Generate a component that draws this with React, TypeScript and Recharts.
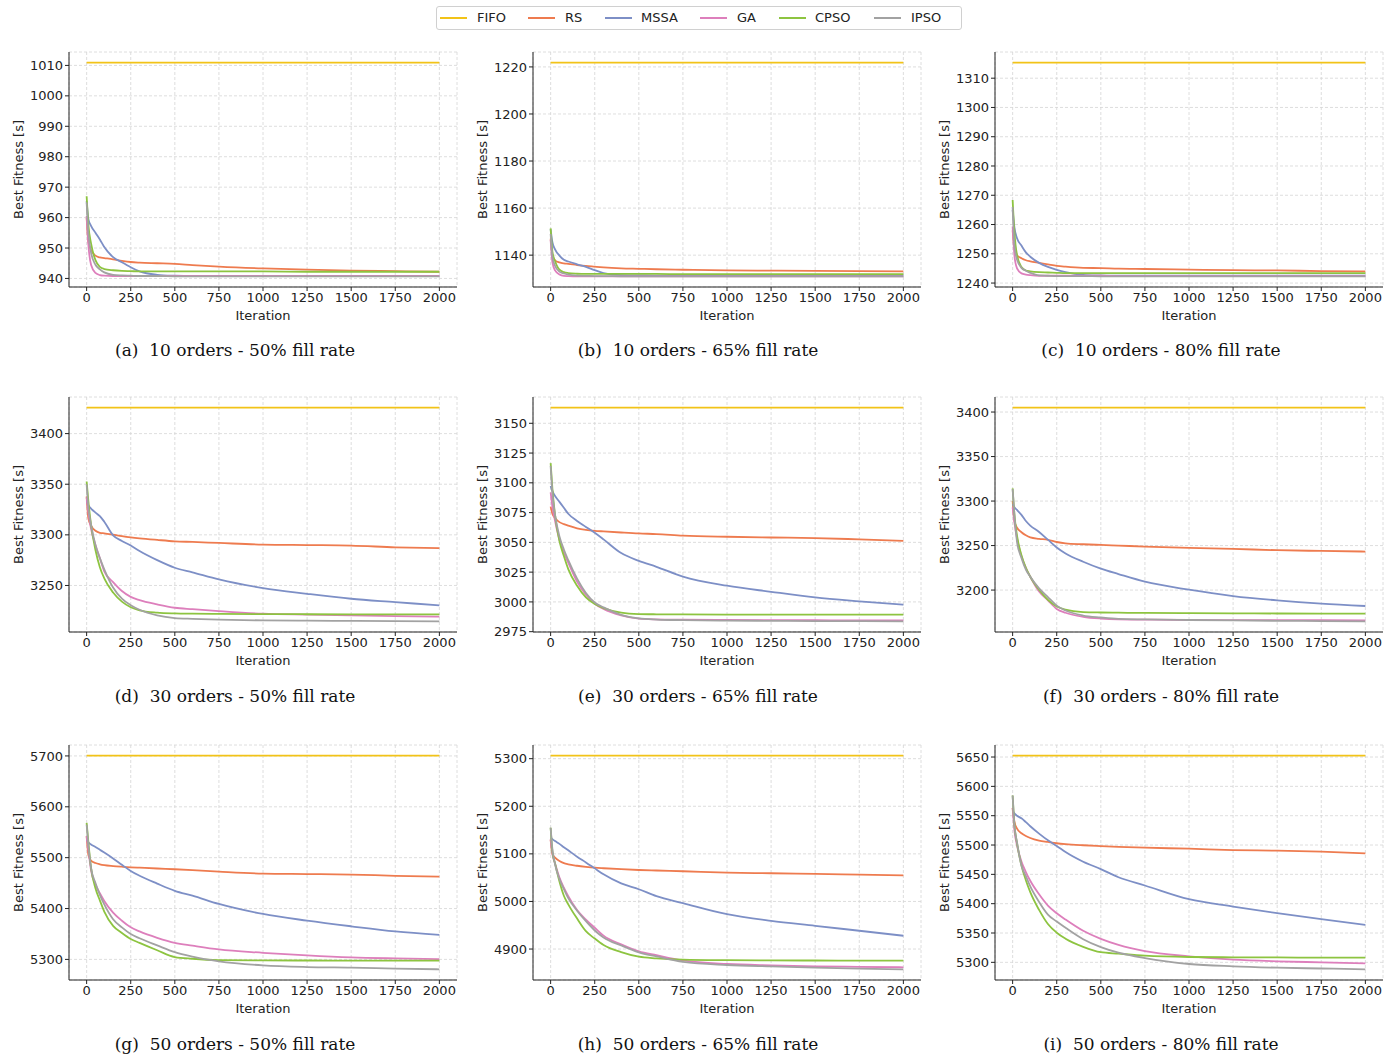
import { LineChart, Line, XAxis, YAxis, CartesianGrid } from "recharts";

// iterations at which each curve was sampled from the figure
const ITERS = [0, 10, 25, 50, 75, 100, 150, 200, 250, 300, 400, 500, 600, 750, 1000, 1250, 1500, 1750, 2000];
const X_TICKS = [0, 250, 500, 750, 1000, 1250, 1500, 1750, 2000];

const SERIES = ["FIFO", "RS", "MSSA", "GA", "CPSO", "IPSO"];
const COLORS: Record<string, string> = {
  FIFO: "#f2c318",
  RS: "#ee7b4f",
  MSSA: "#7d8fc6",
  GA: "#dd7fbc",
  CPSO: "#8dc440",
  IPSO: "#a2a2a2",
};

// (a) 10 orders - 50%
const A_FIFO = 1010.9;
const A_RS = [960.0, 952.0, 949.3, 947.5, 946.9, 946.7, 946.3, 945.8, 945.4, 945.2, 945.0, 944.8, 944.4, 943.9, 943.3, 942.9, 942.6, 942.4, 942.2];
const A_MSSA = [965.5, 959.5, 957.3, 955.0, 952.8, 950.3, 947.0, 945.3, 943.7, 942.3, 941.2, 940.9, 940.8, 940.8, 940.8, 940.8, 940.8, 940.8, 940.8];
const A_GA = [960.5, 951.0, 944.5, 941.8, 941.1, 940.9, 940.8, 940.8, 940.8, 940.8, 940.8, 940.8, 940.8, 940.8, 940.8, 940.8, 940.8, 940.8, 940.8];
const A_CPSO = [967.0, 957.5, 951.5, 946.0, 943.8, 943.1, 942.7, 942.5, 942.4, 942.3, 942.3, 942.3, 942.3, 942.3, 942.3, 942.2, 942.2, 942.2, 942.2];
const A_IPSO = [965.0, 955.0, 948.5, 944.5, 943.0, 942.0, 941.2, 941.0, 940.9, 940.8, 940.8, 940.7, 940.7, 940.7, 940.7, 940.7, 940.7, 940.7, 940.7];
const A_TICKS = [940, 950, 960, 970, 980, 990, 1000, 1010];

// (b) 10 orders - 65%
const B_FIFO = 1221.8;
const B_RS = [1147.0, 1140.0, 1137.8, 1136.9, 1136.5, 1136.3, 1135.8, 1135.4, 1135.1, 1134.8, 1134.4, 1134.2, 1134.0, 1133.8, 1133.5, 1133.4, 1133.3, 1133.2, 1133.1];
const B_MSSA = [1151.0, 1145.5, 1142.5, 1139.8, 1138.0, 1137.3, 1136.1, 1135.0, 1133.6, 1132.4, 1131.5, 1131.4, 1131.3, 1131.3, 1131.3, 1131.3, 1131.3, 1131.3, 1131.3];
const B_GA = [1146.5, 1137.0, 1133.5, 1131.8, 1131.2, 1131.1, 1131.0, 1131.0, 1131.0, 1131.0, 1131.0, 1131.0, 1131.0, 1131.0, 1131.0, 1131.0, 1131.0, 1131.0, 1131.0];
const B_CPSO = [1151.4, 1141.5, 1137.5, 1133.8, 1132.8, 1132.4, 1132.1, 1132.0, 1132.0, 1132.0, 1132.0, 1132.0, 1132.0, 1131.9, 1131.9, 1131.9, 1131.9, 1131.9, 1131.9];
const B_IPSO = [1149.0, 1139.5, 1135.5, 1133.0, 1132.2, 1131.7, 1131.3, 1131.2, 1131.1, 1131.1, 1131.0, 1131.0, 1131.0, 1131.0, 1131.0, 1131.0, 1131.0, 1131.0, 1131.0];
const B_TICKS = [1140, 1160, 1180, 1200, 1220];

// (c) 10 orders - 80%
const C_FIFO = 1315.3;
const C_RS = [1258.0, 1252.0, 1249.5, 1248.5, 1247.8, 1247.4, 1246.9, 1246.4, 1245.9, 1245.6, 1245.2, 1245.1, 1244.9, 1244.8, 1244.6, 1244.4, 1244.3, 1244.1, 1244.0];
const C_MSSA = [1265.0, 1259.0, 1255.3, 1252.8, 1250.5, 1249.0, 1246.9, 1245.5, 1244.5, 1243.7, 1242.8, 1242.6, 1242.5, 1242.5, 1242.5, 1242.5, 1242.5, 1242.5, 1242.5];
const C_GA = [1259.3, 1249.5, 1245.0, 1243.3, 1242.9, 1242.7, 1242.5, 1242.5, 1242.5, 1242.5, 1242.5, 1242.5, 1242.4, 1242.4, 1242.4, 1242.4, 1242.4, 1242.4, 1242.4];
const C_CPSO = [1268.4, 1257.5, 1249.5, 1245.5, 1244.3, 1244.0, 1243.7, 1243.6, 1243.5, 1243.4, 1243.4, 1243.4, 1243.4, 1243.4, 1243.4, 1243.4, 1243.4, 1243.4, 1243.4];
const C_IPSO = [1266.0, 1253.0, 1248.0, 1245.2, 1244.2, 1243.5, 1242.6, 1242.5, 1242.4, 1242.4, 1242.4, 1242.3, 1242.3, 1242.3, 1242.3, 1242.3, 1242.3, 1242.3, 1242.3];
const C_TICKS = [1240, 1250, 1260, 1270, 1280, 1290, 1300, 1310];

// (d) 30 orders - 50%
const D_FIFO = 3425.6;
const D_RS = [3338, 3316, 3309, 3304, 3302, 3301.5, 3300.2, 3298.8, 3297.6, 3296.6, 3295, 3293.6, 3293, 3292, 3290.4, 3289.9, 3289.4, 3287.7, 3286.8];
const D_MSSA = [3334, 3329, 3326, 3322, 3318.5, 3313, 3299.5, 3294, 3289.5, 3284, 3275, 3267.5, 3263, 3256, 3247.4, 3241.8, 3236.9, 3233.6, 3230.3];
const D_GA = [3337, 3322, 3306, 3290, 3277, 3264, 3253.3, 3244.5, 3238.7, 3235.5, 3231.3, 3228, 3226.6, 3224.7, 3222.1, 3221.2, 3220.5, 3219.8, 3219.2];
const D_CPSO = [3352.7, 3333, 3310, 3285, 3268, 3257, 3243, 3234, 3228.5, 3225.5, 3223.2, 3222.4, 3222.1, 3221.9, 3221.7, 3221.6, 3221.5, 3221.4, 3221.4];
const D_IPSO = [3350, 3327, 3310, 3290, 3277, 3266, 3248, 3237, 3230.5, 3226, 3220.5, 3217.8, 3217, 3216.2, 3215.5, 3215.2, 3215, 3214.8, 3214.6];
const D_TICKS = [3250, 3300, 3350, 3400];

// (e) 30 orders - 65%
const E_FIFO = 3163.1;
const E_RS = [3080, 3074, 3070.5, 3067, 3065.3, 3064, 3061.8, 3060.5, 3059.7, 3059.2, 3058.3, 3057.5, 3057, 3055.7, 3054.7, 3054.1, 3053.6, 3052.5, 3051.3];
const E_MSSA = [3097.4, 3093, 3089, 3084, 3079, 3074, 3068, 3063, 3058, 3052.5, 3041, 3034.5, 3029.5, 3021.3, 3013.6, 3008.5, 3003.8, 3000.5, 2997.6];
const E_GA = [3091.9, 3080, 3068, 3052, 3041.5, 3033, 3017, 3006, 2998.5, 2994, 2988.6, 2985.9, 2985.3, 2985, 2984.8, 2984.7, 2984.6, 2984.5, 2984.5];
const E_CPSO = [3116.5, 3095, 3073, 3051, 3038.5, 3027.5, 3013.5, 3003.8, 2998.2, 2994.8, 2991, 2989.8, 2989.6, 2989.5, 2989.4, 2989.4, 2989.3, 2989.3, 2989.3];
const E_IPSO = [3114.2, 3092, 3073, 3055, 3044, 3035, 3019.5, 3007.5, 2999.5, 2995.4, 2989.2, 2986.2, 2985.2, 2984.7, 2984.3, 2984.1, 2983.9, 2983.8, 2983.7];
const E_TICKS = [2975, 3000, 3025, 3050, 3075, 3100, 3125, 3150];

// (f) 30 orders - 80%
const F_FIFO = 3404.9;
const F_RS = [3300, 3278, 3270, 3265, 3261.5, 3259.2, 3257.6, 3256.5, 3254, 3252.5, 3251.5, 3250.7, 3250, 3248.9, 3247.4, 3246.3, 3244.8, 3244, 3243.3];
const F_MSSA = [3296.6, 3293, 3290, 3284.5, 3277.6, 3272.5, 3265.3, 3256.6, 3247.9, 3241.2, 3231.8, 3224.1, 3218, 3209.4, 3200.4, 3193.3, 3188.4, 3184.7, 3182.1];
const F_GA = [3292.9, 3276, 3258, 3238, 3225, 3215, 3198.4, 3188.5, 3178.8, 3174.5, 3170, 3168, 3167.1, 3166.8, 3166.4, 3166.3, 3166.2, 3166.1, 3166];
const F_CPSO = [3314.2, 3285, 3261, 3239, 3225, 3215, 3200.4, 3189, 3181.6, 3178, 3175.3, 3174.8, 3174.6, 3174.3, 3174, 3173.8, 3173.7, 3173.6, 3173.5];
const F_IPSO = [3313.4, 3285, 3254, 3236, 3223, 3215, 3202, 3192.2, 3182.5, 3177, 3171.4, 3169.2, 3167.6, 3167, 3166.4, 3165.9, 3165.5, 3165.2, 3164.9];
const F_TICKS = [3200, 3250, 3300, 3350, 3400];

// (g) 50 orders - 50%
const G_FIFO = 5700.5;
const G_RS = [5542, 5505, 5494, 5489.5, 5487, 5485.3, 5483.5, 5482.2, 5481.1, 5480.3, 5478.7, 5477.2, 5475.5, 5472.6, 5468.7, 5467.8, 5466.8, 5464.4, 5462.9];
const G_MSSA = [5535.8, 5530, 5526, 5521, 5515.5, 5510, 5498.5, 5486, 5474, 5464.5, 5449, 5434.9, 5425.3, 5409, 5389.3, 5376.2, 5365.1, 5355, 5348.2];
const G_GA = [5542.3, 5515, 5475, 5447, 5430, 5415, 5392, 5376, 5363, 5355, 5342.5, 5332.5, 5327, 5319.5, 5313, 5307.8, 5303.9, 5302, 5300.7];
const G_CPSO = [5568.4, 5530, 5480, 5440, 5416, 5394, 5366, 5352, 5340.2, 5332.5, 5318, 5304.5, 5301.3, 5298.7, 5298, 5297.8, 5297.6, 5297.5, 5297.4];
const G_IPSO = [5565.1, 5525, 5480, 5450, 5427, 5408, 5379, 5363, 5350, 5341.5, 5327.5, 5314.2, 5305.5, 5296.3, 5288.3, 5285, 5283.7, 5282, 5280.5];
const G_TICKS = [5300, 5400, 5500, 5600, 5700];

// (h) 50 orders - 65%
const H_FIFO = 5306.3;
const H_RS = [5130, 5100, 5092, 5085, 5080.5, 5078, 5075, 5072.8, 5071, 5069.8, 5067.8, 5066.1, 5065, 5063.5, 5060.6, 5059.3, 5057.8, 5056.4, 5055];
const H_MSSA = [5133.9, 5131, 5127, 5121, 5114, 5107.5, 5094, 5082, 5069.5, 5057, 5038, 5025.7, 5011, 4996.6, 4973.3, 4959.3, 4948.9, 4938.4, 4927.9];
const H_GA = [5130.4, 5100, 5080, 5050, 5029, 5011, 4982, 4961.8, 4944.7, 4928.2, 4909.8, 4895.1, 4887, 4876, 4868.6, 4865.7, 4863.7, 4862.6, 4861.6];
const H_CPSO = [5154.8, 5105, 5080, 5042, 5012, 4994, 4964, 4937.5, 4922, 4908.5, 4893.5, 4883.9, 4880.5, 4877.8, 4876.6, 4876.2, 4875.9, 4875.7, 4875.6];
const H_IPSO = [5154.8, 5110, 5078, 5047, 5026, 5007, 4980.5, 4958.5, 4939, 4924.5, 4907.5, 4893, 4884.5, 4873, 4866.5, 4863.5, 4861, 4859, 4857.4];
const H_TICKS = [4900, 5000, 5100, 5200, 5300];

// (i) 50 orders - 80%
const I_FIFO = 5652.3;
const I_RS = [5563.4, 5540, 5528, 5520, 5515.5, 5512, 5507.5, 5505.2, 5503, 5501.5, 5499.6, 5498.2, 5497, 5495.5, 5493.7, 5491.4, 5490.3, 5488.6, 5485.8];
const I_MSSA = [5557.7, 5554, 5550, 5545.5, 5539, 5532, 5519.4, 5508, 5498.5, 5488, 5471.5, 5459, 5445, 5431, 5407.6, 5395.1, 5383.8, 5373.6, 5364];
const I_GA = [5563.4, 5525, 5499, 5472, 5454, 5439, 5416, 5396.8, 5383.7, 5373, 5353.8, 5340, 5329.8, 5319, 5310.2, 5304.5, 5301.7, 5300, 5298.3];
const I_CPSO = [5584.3, 5535, 5503, 5465, 5440, 5419.7, 5389.4, 5365.3, 5350.5, 5340.3, 5326.5, 5317.3, 5314.8, 5311.3, 5309.1, 5308.6, 5308.3, 5308.1, 5307.9];
const I_IPSO = [5584.3, 5535, 5504, 5465, 5447, 5429.5, 5403, 5381.5, 5369.5, 5359, 5339.5, 5326, 5316.5, 5307.2, 5297.2, 5293.2, 5290.9, 5289.5, 5288.1];
const I_TICKS = [5300, 5350, 5400, 5450, 5500, 5550, 5600, 5650];

const PANELS = [
  { tag: "a", caption: "10 orders - 50% fill rate", fifo: A_FIFO, RS: A_RS, MSSA: A_MSSA, GA: A_GA, CPSO: A_CPSO, IPSO: A_IPSO, ticks: A_TICKS },
  { tag: "b", caption: "10 orders - 65% fill rate", fifo: B_FIFO, RS: B_RS, MSSA: B_MSSA, GA: B_GA, CPSO: B_CPSO, IPSO: B_IPSO, ticks: B_TICKS },
  { tag: "c", caption: "10 orders - 80% fill rate", fifo: C_FIFO, RS: C_RS, MSSA: C_MSSA, GA: C_GA, CPSO: C_CPSO, IPSO: C_IPSO, ticks: C_TICKS },
  { tag: "d", caption: "30 orders - 50% fill rate", fifo: D_FIFO, RS: D_RS, MSSA: D_MSSA, GA: D_GA, CPSO: D_CPSO, IPSO: D_IPSO, ticks: D_TICKS },
  { tag: "e", caption: "30 orders - 65% fill rate", fifo: E_FIFO, RS: E_RS, MSSA: E_MSSA, GA: E_GA, CPSO: E_CPSO, IPSO: E_IPSO, ticks: E_TICKS },
  { tag: "f", caption: "30 orders - 80% fill rate", fifo: F_FIFO, RS: F_RS, MSSA: F_MSSA, GA: F_GA, CPSO: F_CPSO, IPSO: F_IPSO, ticks: F_TICKS },
  { tag: "g", caption: "50 orders - 50% fill rate", fifo: G_FIFO, RS: G_RS, MSSA: G_MSSA, GA: G_GA, CPSO: G_CPSO, IPSO: G_IPSO, ticks: G_TICKS },
  { tag: "h", caption: "50 orders - 65% fill rate", fifo: H_FIFO, RS: H_RS, MSSA: H_MSSA, GA: H_GA, CPSO: H_CPSO, IPSO: H_IPSO, ticks: H_TICKS },
  { tag: "i", caption: "50 orders - 80% fill rate", fifo: I_FIFO, RS: I_RS, MSSA: I_MSSA, GA: I_GA, CPSO: I_CPSO, IPSO: I_IPSO, ticks: I_TICKS },
];

// plot-area placement (left edge of each column, top of each row)
const COL_X = [69, 533, 995];
const ROW_Y = [52, 397, 745];
const PLOT_W = 388;
const PLOT_H = 235;
const Y_W = 70;
const CAPTION_X = [235, 698, 1161];
const CAPTION_Y = [350, 696, 1044];
const SANS = "'DejaVu Sans', sans-serif";

function Panel({ p, col, row }: { p: any; col: number; row: number }) {
  const data = ITERS.map((it, i) => ({
    it,
    FIFO: p.fifo,
    RS: p.RS[i],
    MSSA: p.MSSA[i],
    GA: p.GA[i],
    CPSO: p.CPSO[i],
    IPSO: p.IPSO[i],
  }));
  const all = [p.fifo, ...p.RS, ...p.MSSA, ...p.GA, ...p.CPSO, ...p.IPSO];
  const lo = Math.min(...all);
  const hi = Math.max(...all);
  const pad = (hi - lo) * 0.05;

  return (
    <>
      <div style={{ position: "absolute", left: COL_X[col] - Y_W, top: ROW_Y[row] - 10 }}>
        <LineChart
          width={Y_W + PLOT_W + 10}
          height={10 + PLOT_H + 36}
          data={data}
          margin={{ top: 10, right: 10, bottom: 0, left: 0 }}
        >
          <CartesianGrid stroke="#d6d6d6" strokeDasharray="3 2" strokeWidth={0.8} />
          <XAxis
            dataKey="it"
            type="number"
            domain={[-100, 2100]}
            ticks={X_TICKS}
            allowDataOverflow
            height={36}
            tickSize={4}
            tickMargin={2}
            stroke="#222"
            tick={{ fill: "#222", fontSize: 13, fontFamily: SANS }}
            label={{ value: "Iteration", position: "insideBottom", offset: 3, fill: "#222", fontSize: 13, fontFamily: SANS }}
          />
          <YAxis
            type="number"
            domain={[lo - pad, hi + pad]}
            ticks={p.ticks}
            allowDataOverflow
            width={Y_W}
            tickSize={4}
            tickMargin={2}
            stroke="#222"
            tick={{ fill: "#222", fontSize: 13, fontFamily: SANS }}
            label={{
              value: "Best Fitness [s]",
              angle: -90,
              position: "insideLeft",
              offset: 19,
              fill: "#222",
              fontSize: 13,
              fontFamily: SANS,
              style: { textAnchor: "middle" },
            }}
          />
          {SERIES.map((s) => (
            <Line
              key={s}
              dataKey={s}
              type={s === "FIFO" ? "linear" : "monotone"}
              stroke={COLORS[s]}
              strokeWidth={1.8}
              dot={false}
              activeDot={false}
              isAnimationActive={false}
            />
          ))}
        </LineChart>
      </div>
      <div
        style={{
          position: "absolute",
          left: CAPTION_X[col] - 200,
          width: 400,
          top: CAPTION_Y[row] - 11,
          lineHeight: "22px",
          textAlign: "center",
          fontFamily: "'DejaVu Serif', serif",
          fontSize: 17,
          color: "#111",
          whiteSpace: "pre",
        }}
      >
        {`(${p.tag})  ${p.caption}`}
      </div>
    </>
  );
}

// shared legend at the top: [line start, text start] relative to the page
const LEGEND_POS = [
  [440, 477],
  [528, 565],
  [605, 641],
  [700, 737],
  [779, 815],
  [874, 911],
];

function SharedLegend() {
  return (
    <div
      style={{
        position: "absolute",
        left: 436,
        top: 6,
        width: 524,
        height: 22,
        border: "1px solid #d0d0d0",
        borderRadius: 3,
        background: "#fff",
        fontFamily: SANS,
        fontSize: 13,
        color: "#222",
      }}
    >
      {SERIES.map((s, i) => (
        <div key={s}>
          <div
            style={{
              position: "absolute",
              left: LEGEND_POS[i][0] - 437,
              top: 10,
              width: 27,
              height: 2,
              background: COLORS[s],
            }}
          />
          <div style={{ position: "absolute", left: LEGEND_POS[i][1] - 437, top: 3, lineHeight: "16px" }}>{s}</div>
        </div>
      ))}
    </div>
  );
}

export default function App() {
  return (
    <div style={{ position: "absolute", left: 0, top: 0, width: 1400, height: 1057, background: "#fff", overflow: "hidden" }}>
      <SharedLegend />
      {PANELS.map((p, i) => (
        <Panel key={p.tag} p={p} col={i % 3} row={Math.floor(i / 3)} />
      ))}
    </div>
  );
}
